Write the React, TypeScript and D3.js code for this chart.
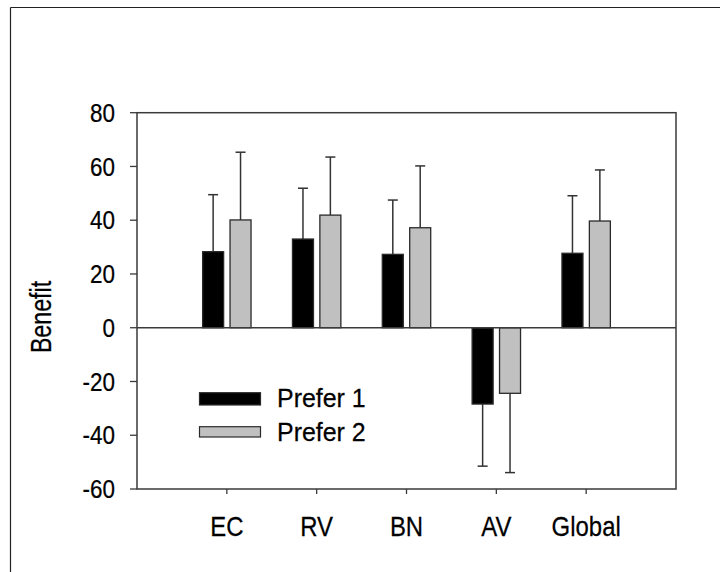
import React from "react";
import * as d3 from "d3";

const categories = ["EC", "RV", "BN", "AV", "Global"];
const seriesNames = ["Prefer 1", "Prefer 2"];
const prefer1 = [28.3, 33.0, 27.3, -28.4, 27.7];
const prefer1Err = [21.2, 18.9, 20.2, 23.1, 21.4];
const prefer2 = [40.1, 41.9, 37.2, -24.4, 39.7];
const prefer2Err = [25.2, 21.6, 23.0, 29.5, 19.0];
const yTicks = [-60, -40, -20, 0, 20, 40, 60, 80];

const W = 720;
const H = 572;
const FONT = "'Liberation Sans', Arial, sans-serif";

function NText(props: {
  x: number;
  y: number;
  size: number;
  sx: number;
  anchor?: "start" | "middle" | "end";
  rotate?: number;
  dy?: string;
  children: React.ReactNode;
}) {
  const { x, y, size, sx, anchor = "start", rotate = 0, dy, children } = props;
  return (
    <text
      transform={`translate(${x},${y}) rotate(${rotate}) scale(${sx},1)`}
      textAnchor={anchor}
      fontSize={size}
      dy={dy}
      fill="#000"
      stroke="#000"
      strokeWidth={0.25}
    >
      {children}
    </text>
  );
}

export default function App() {
  const x = d3.scaleLinear().domain([0, categories.length + 1]).range([137, 676]);
  const y = d3.scaleLinear().domain([-60, 80]).range([489, 112.7]);
  const barW = 21;
  const offset = 13.7;
  const capW = 10;
  const axisColor = "#3a3a3a";
  const series = [
    { values: prefer1, errs: prefer1Err, fill: "#000000", dx: -offset },
    { values: prefer2, errs: prefer2Err, fill: "#c0c0c0", dx: offset },
  ];

  return (
    <svg
      width={W}
      height={H}
      style={{ position: "absolute", left: 0, top: 0, background: "#fff" }}
      fontFamily={FONT}
    >
      <rect x={0} y={0} width={W} height={H} fill="#fff" />
      {/* outer frame (top and left visible) */}
      <line x1={10.5} y1={7.5} x2={W} y2={7.5} stroke="#222" strokeWidth={1.2} />
      <line x1={10.5} y1={7.5} x2={10.5} y2={H} stroke="#222" strokeWidth={1.2} />

      {/* bars and error bars */}
      {series.map((s, si) =>
        categories.map((c, i) => {
          const cx = x(i + 1) + s.dx;
          const v = s.values[i];
          const e = s.errs[i];
          const y0 = y(0);
          const yv = y(v);
          const ye = y(v >= 0 ? v + e : v - e);
          return (
            <g key={`${si}-${c}`}>
              <line x1={cx} x2={cx} y1={yv} y2={ye} stroke="#333" strokeWidth={1.5} />
              <line x1={cx - capW / 2} x2={cx + capW / 2} y1={ye} y2={ye} stroke="#333" strokeWidth={1.5} />
              <rect
                x={cx - barW / 2}
                y={Math.min(y0, yv)}
                width={barW}
                height={Math.abs(yv - y0)}
                fill={s.fill}
                stroke="#2a2a2a"
                strokeWidth={1.3}
              />
            </g>
          );
        })
      )}

      {/* zero line */}
      <line x1={x(0)} x2={x(6)} y1={y(0)} y2={y(0)} stroke={axisColor} strokeWidth={1.3} />

      {/* plot frame */}
      <rect
        x={x(0)}
        y={y(80)}
        width={x(6) - x(0)}
        height={y(-60) - y(80)}
        fill="none"
        stroke={axisColor}
        strokeWidth={1.5}
      />

      {/* y ticks */}
      {yTicks.map((t) => (
        <g key={t}>
          <line x1={x(0) - 7} x2={x(0)} y1={y(t)} y2={y(t)} stroke={axisColor} strokeWidth={1.3} />
          <NText x={115} y={y(t)} dy="0.36em" anchor="end" size={25.5} sx={0.88}>
            {t}
          </NText>
        </g>
      ))}

      {/* x ticks */}
      {categories.map((c, i) => (
        <g key={c}>
          <line x1={x(i + 1)} x2={x(i + 1)} y1={y(-60)} y2={y(-60) + 5} stroke={axisColor} strokeWidth={1.3} />
          <NText x={x(i + 1)} y={535.5} anchor="middle" size={28.5} sx={0.84}>
            {c}
          </NText>
        </g>
      ))}

      {/* y axis title */}
      <NText x={51} y={317} anchor="middle" size={29} sx={0.8} rotate={-90}>
        Benefit
      </NText>

      {/* legend */}
      <rect x={199.5} y={392.7} width={61} height={12.3} fill="#000" stroke="#2a2a2a" strokeWidth={1.2} />
      <NText x={277} y={407} size={26} sx={0.96}>
        {seriesNames[0]}
      </NText>
      <rect x={199.5} y={426.7} width={61} height={10.3} fill="#c0c0c0" stroke="#2a2a2a" strokeWidth={1.2} />
      <NText x={277} y={441} size={26} sx={0.96}>
        {seriesNames[1]}
      </NText>
    </svg>
  );
}
